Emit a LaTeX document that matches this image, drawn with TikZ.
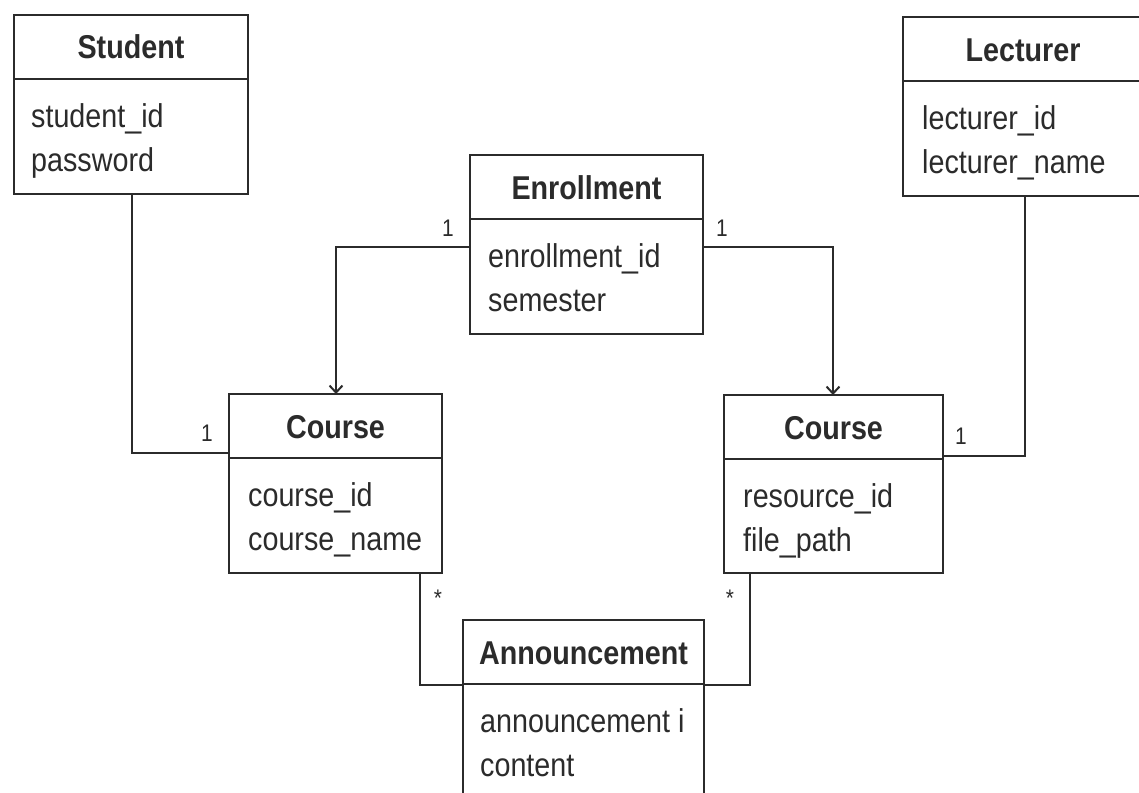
\documentclass[tikz,border=0pt]{standalone}
\usepackage{fontspec}
\setmainfont{Liberation Sans}[FakeStretch=0.87]
\usetikzlibrary{calc,arrows.meta}
\definecolor{ink}{HTML}{2B2B2B}
\tikzset{
  classrect/.style={draw=ink, line width=2.6pt, fill=white, outer sep=0pt, inner sep=0pt, anchor=north west},
  boxline/.style={draw=ink, line width=2.6pt},
  conn/.style={draw=ink, line width=2pt},
  titletext/.style={font=\fontsize{33}{36}\selectfont\bfseries, text=ink, anchor=base, inner sep=0pt},
  attrtext/.style={font=\fontsize{33}{36}\selectfont, text=ink, anchor=base west, inner sep=0pt},
  multlabel/.style={font=\fontsize{24}{26}\selectfont, text=ink, inner sep=0pt, anchor=base},
}
\newcommand\classbox[9]{%
  \node[classrect, minimum width=#4pt, minimum height=#5pt] (#1) at (#2,#3) {};
  \draw[boxline] ($(#1.north west)+(0,64)$) -- ($(#1.north east)+(0,64)$);
  \node[titletext] (#1-t) at ($(#1.north)+(0,44)$) {#6};
  \node[attrtext] (#1-a) at ($(#1.north west)+(#9,112)$) {#7};
  \node[attrtext] (#1-b) at ($(#1.north west)+(#9,156)$) {#8};
}
\begin{document}
\begin{tikzpicture}[x=1pt,y=-1pt]
\useasboundingbox (0,0) rectangle (1139,792);
\begin{scope}
\clip (0,0) rectangle (1139,792);
\classbox{stu}{14}{15}{234}{179}{Student}{student\_id}{password}{17}
\classbox{lec}{903}{17}{240}{179}{Lecturer}{lecturer\_id}{lecturer\_name}{19}
\classbox{enr}{470}{155}{233}{179}{Enrollment}{enrollment\_id}{semester}{18}
\classbox{cl}{229}{394}{213}{179}{Course}{course\_id}{course\_name}{19}
\classbox{cr}{724}{395}{219}{178}{Course}{resource\_id}{file\_path}{19}
\classbox{ann}{463}{620}{241}{200}{Announcement}{announcement i}{content}{17}

\draw[conn] ($(stu.south west)+(118,0)$) |- ($(cl.north west)+(0,59)$);
\draw[conn] ($(lec.south west)+(122,0)$) |- ($(cr.north east)+(0,61)$);
\draw[conn,-{Straight Barb[length=7pt,width=13pt,line width=2pt]}] ($(enr.north west)+(0,92)$) -| ($(cl.north west)+(107,0)$);
\draw[conn,-{Straight Barb[length=7pt,width=13pt,line width=2pt]}] ($(enr.north east)+(0,92)$) -| ($(cr.north west)+(109,0)$);
\draw[conn] ($(cl.south west)+(191,0)$) |- ($(ann.north west)+(0,65)$);
\draw[conn] ($(cr.south west)+(26,0)$) |- ($(ann.north east)+(0,65)$);

\node[multlabel] (m1) at (207,441) {1};
\node[multlabel] (m2) at (961,444) {1};
\node[multlabel] (m3) at (448,236) {1};
\node[multlabel] (m4) at (722,236) {1};
\node[multlabel] (m5) at (438,606) {*};
\node[multlabel] (m6) at (730,606) {*};
\end{scope}
\end{tikzpicture}
\end{document}
